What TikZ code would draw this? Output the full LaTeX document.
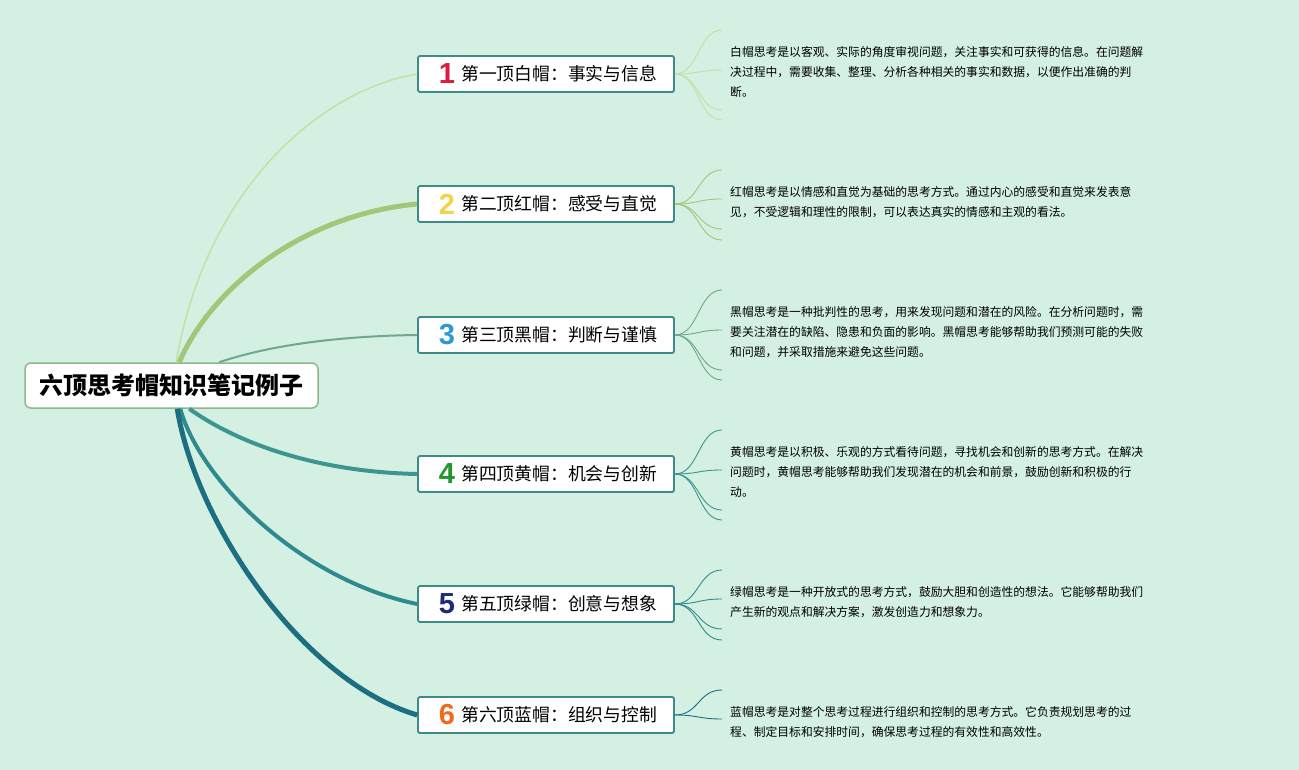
\documentclass[tikz,border=0pt]{standalone}
\usepackage{fontspec}
\setmainfont{Noto Sans CJK SC}
\newfontfamily\digitfont{Liberation Sans}
\definecolor{bg}{HTML}{D3F0E2}
\definecolor{rootborder}{HTML}{8DB88A}
\definecolor{boxborder}{HTML}{3D8A88}
\definecolor{c1}{HTML}{BFE3A0}
\definecolor{c2}{HTML}{A0C878}
\definecolor{c3}{HTML}{6FA88E}
\definecolor{c4}{HTML}{3D9590}
\definecolor{c5}{HTML}{2E8A8E}
\definecolor{c6}{HTML}{1B6F80}
\definecolor{d1}{HTML}{D81E3C}
\definecolor{d2}{HTML}{F3D34A}
\definecolor{d3}{HTML}{2B97D5}
\definecolor{d4}{HTML}{22962C}
\definecolor{d5}{HTML}{1E2A7A}
\definecolor{d6}{HTML}{F06A1C}
\begin{document}
\begin{tikzpicture}[x=1pt,y=-1pt,
  rootbox/.style={draw=rootborder, line width=1.5pt, fill=white, rounded corners=6pt,
    minimum width=293pt, minimum height=45pt, inner sep=0pt,
    font=\bfseries\fontsize{24}{28}\selectfont},
  branchbox/.style={draw=boxborder, line width=1.8pt, fill=white, rounded corners=2pt,
    minimum width=256pt, minimum height=36pt, inner sep=0pt},
  numtext/.style={font=\digitfont\bfseries\fontsize{29}{29}\selectfont, inner sep=0pt},
  btext/.style={font=\fontsize{17.8}{20}\selectfont, anchor=west, inner sep=0pt},
  para/.style={font=\fontsize{11.8}{20}\selectfont, align=left, anchor=west, inner sep=0pt},
  fan/.style={line width=0.9pt},
]
\fill[bg] (0,0) rectangle (1299,770);
\useasboundingbox (0,0) rectangle (1299,770);

% root
\node[rootbox] (root) at (171.5,385.5) {六顶思考帽知识笔记例子};

% branch boxes
\foreach \i/\y/\t in {1/74/第一顶白帽：事实与信息,2/204/第二顶红帽：感受与直觉,3/335/第三顶黑帽：判断与谨慎,4/474/第四顶黄帽：机会与创新,5/604/第五顶绿帽：创意与想象,6/715/第六顶蓝帽：组织与控制}{
  \node[branchbox] (b\i) at (546,\y) {};
  \node[numtext, text=d\i] (n\i) at (447,\y) {\i};
  \node[btext] (t\i) at (461,\y) {\t};
}

% connectors root -> branches
\coordinate (r1) at ([xshift=152pt]root.north west);
\coordinate (r2) at ([xshift=155pt]root.north west);
\coordinate (r3) at ([xshift=195pt]root.north west);
\coordinate (r4) at ([xshift=165pt]root.south west);
\coordinate (r5) at ([xshift=156pt]root.south west);
\coordinate (r6) at ([xshift=153pt]root.south west);
\draw[c1, line width=1.5pt] (r1) .. controls (205,190) and (320,90) .. (b1.west);
\draw[c2, line width=5pt] (r2) .. controls (210,290) and (300,215) .. (b2.west);
\draw[c3, line width=2pt] (r3) .. controls (270,345) and (340,336) .. (b3.west);
\draw[c4, line width=4pt] (r4) .. controls (240,445) and (320,472) .. (b4.west);
\draw[c5, line width=4pt] (r5) .. controls (200,480) and (300,580) .. (b5.west);
\draw[c6, line width=5pt] (r6) .. controls (195,520) and (300,680) .. (b6.west);

% fans
\foreach \i/\col/\ys in {1/c1/{30,70,110,120},2/c2/{170,199,229,240},3/c3/{290,330,370,380},4/c4/{430,470,510,520},5/c5/{570,599,629,640},6/c6/{690,719}}{
  \foreach \yy [count=\k] in \ys {
    \coordinate (f\i-\k) at (722,\yy);
    \draw[fan, \col] (b\i.east) .. controls +(24,0) and +(-24,0) .. (f\i-\k);
  }
}

% paragraphs
\node[para] (p1) at (730,72) {白帽思考是以客观、实际的角度审视问题，关注事实和可获得的信息。在问题解\\决过程中，需要收集、整理、分析各种相关的事实和数据，以便作出准确的判\\断。};
\node[para] (p2) at (730,202) {红帽思考是以情感和直觉为基础的思考方式。通过内心的感受和直觉来发表意\\见，不受逻辑和理性的限制，可以表达真实的情感和主观的看法。};
\node[para] (p3) at (730,332) {黑帽思考是一种批判性的思考，用来发现问题和潜在的风险。在分析问题时，需\\要关注潜在的缺陷、隐患和负面的影响。黑帽思考能够帮助我们预测可能的失败\\和问题，并采取措施来避免这些问题。};
\node[para] (p4) at (730,472) {黄帽思考是以积极、乐观的方式看待问题，寻找机会和创新的思考方式。在解决\\问题时，黄帽思考能够帮助我们发现潜在的机会和前景，鼓励创新和积极的行\\动。};
\node[para] (p5) at (730,602) {绿帽思考是一种开放式的思考方式，鼓励大胆和创造性的想法。它能够帮助我们\\产生新的观点和解决方案，激发创造力和想象力。};
\node[para] (p6) at (730,722) {蓝帽思考是对整个思考过程进行组织和控制的思考方式。它负责规划思考的过\\程、制定目标和安排时间，确保思考过程的有效性和高效性。};
\end{tikzpicture}
\end{document}
